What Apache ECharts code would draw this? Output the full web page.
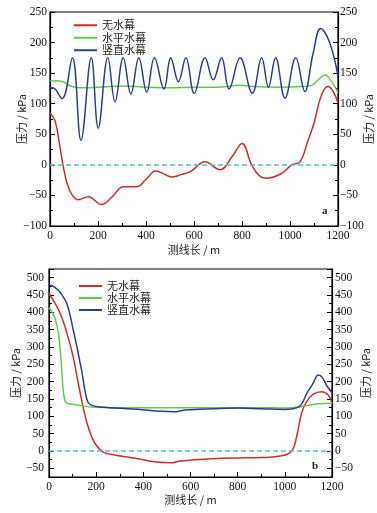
<!DOCTYPE html>
<html><head><meta charset="utf-8">
<script src="https://cdn.jsdelivr.net/npm/echarts@6/dist/echarts.min.js"></script>
<style>html,body{margin:0;padding:0;background:#fff}#c{width:377px;height:513px}</style>
</head><body><div id="c"></div>
<script>
const seriesNames = ['无水幕', '水平水幕', '竖直水幕'];
const xName = '测线长 / m';
const yName = '压力 / kPa';
const panelLabels = ['a', 'b'];

// Panel a: [distance m, pressure kPa]
const aNone = [[0,85],[21,72],[42,28],[54,0],[71,-30],[92,-49],[117,-57],[160,-52],[215,-65],[260,-52],[305,-36],[360,-36],[400,-24],[440,-10],[470,-14],[507,-20],[545,-16],[585,-11],[646,5],[708,-8],[760,14],[800,35],[840,0],[870,-17],[902,-22],[965,-14],[1007,0],[1042,5],[1075,40],[1100,68],[1130,113],[1158,128],[1180,120],[1200,101]];
const aHoriz = [[0,137],[33,137],[60,135],[75,131],[104,127],[150,126],[200,127],[300,129],[400,127],[500,126],[600,127],[700,127],[792,130],[850,128],[950,127],[1050,128],[1090,130],[1120,140],[1146,147],[1172,137],[1200,118]];
const aVert = [[0,126],[12,126],[50,108],[93,175],[129,40],[172,175],[201,60],[241,175],[271,103],[305,175],[337,116],[370,175],[403,119],[435,175],[475,124],[503,175],[535,136],[566,175],[601,117],[646,175],[680,139],[715,175],[746,124],[792,175],[843,117],[882,175],[910,127],[940,175],[979,109],[1024,175],[1062,120],[1095,180],[1128,223],[1165,200],[1200,145]];

// Panel b
const bNone = [[0,455],[17,436],[47,398],[76,340],[103,271],[120,210],[150,110],[170,61],[194,23],[230,-3],[283,-12],[360,-20],[456,-32],[520,-34],[555,-29],[700,-22],[800,-20],[900,-19],[987,-14],[1029,0],[1050,41],[1071,109],[1092,142],[1121,164],[1156,171],[1185,161],[1200,138]];
const bHoriz = [[0,414],[11,402],[25,384],[40,340],[51,262],[60,176],[66,150],[71,141],[80,137],[120,133],[160,128],[200,126],[300,125],[500,125],[700,125],[900,125],[1000,124],[1050,126],[1100,132],[1150,136],[1200,138]];
const bVert = [[0,480],[25,472],[50,455],[75,426],[103,349],[138,234],[152,176],[166,140],[185,131],[216,127],[357,121],[527,113],[580,118],[700,122],[800,124],[900,122],[1000,120],[1060,128],[1094,167],[1120,196],[1142,219],[1160,211],[1180,186],[1200,168]];

const colors = ['#d22a2a', '#62c94a', '#2a3d96'];
const zeroColor = '#55c0d0';
const serif = 'Liberation Serif';
const cjk = 'Noto Sans CJK SC';
const plain = v => String(v).replace('-', '\u2212');

function xAx(gi) {
  return {
    type: 'value', gridIndex: gi, min: 0, max: 1200, interval: 200,
    name: xName, nameLocation: 'middle', nameGap: gi === 0 ? 18 : 17, nameMoveOverlap: false,
    nameTextStyle: {fontFamily: cjk, fontSize: 11, color: '#222'},
    axisLine: {show: true, onZero: false, lineStyle: {color: '#000', width: 1.2}},
    axisTick: {show: true, inside: true, length: 5, lineStyle: {color: '#000'}},
    minorTick: {show: true, splitNumber: 2, length: 3, lineStyle: {color: '#000'}},
    axisLabel: {margin: 4, fontFamily: serif, fontSize: 11.5, color: '#111', formatter: plain},
    splitLine: {show: false}
  };
}
function yAx(gi, pos, extra, gap, margin, hideEnds) {
  return Object.assign({
    type: 'value', gridIndex: gi, position: pos,
    name: yName, nameLocation: 'middle', nameRotate: 90, nameGap: gap, nameMoveOverlap: false,
    nameTextStyle: {fontFamily: cjk, fontSize: 11, color: '#222'},
    axisLine: {show: true, onZero: false, lineStyle: {color: '#000', width: 1.2}},
    axisTick: {show: true, inside: true, length: 5, lineStyle: {color: '#000'}},
    minorTick: {show: true, splitNumber: 2, length: 3, lineStyle: {color: '#000'}},
    axisLabel: {margin: margin, fontFamily: serif, fontSize: 11.5, color: '#111', formatter: plain,
                showMinLabel: !hideEnds, showMaxLabel: !hideEnds},
    splitLine: {show: false}
  }, extra);
}
const topY = {min: -100, max: 250, interval: 50};
const botY = {min: -75, max: 525, splitNumber: 12};

function line(name, data, ci, xi, yi, mark) {
  const s = {
    name: name, type: 'line', data: data, xAxisIndex: xi, yAxisIndex: yi,
    smooth: 0.4, symbol: 'none', showSymbol: false,
    lineStyle: {color: colors[ci], width: 1.5}, itemStyle: {color: colors[ci]},
    z: 3 + ci
  };
  if (mark) {
    s.markLine = {
      silent: true, symbol: ['none', 'none'], label: {show: false},
      lineStyle: {color: zeroColor, type: [5, 3], width: 1.5},
      data: [{yAxis: 0}]
    };
  }
  return s;
}

const chart = echarts.init(document.getElementById('c'), null, {renderer: 'canvas'});
chart.setOption({
  animation: false,
  backgroundColor: '#fff',
  grid: [
    {left: 50, right: 39, top: 12, height: 214, show: true, borderColor: '#000', borderWidth: 1.2,
     containLabel: false, outerBoundsMode: 'none'},
    {left: 49, right: 45, top: 269, height: 208, show: true, borderColor: '#000', borderWidth: 1.2,
     containLabel: false, outerBoundsMode: 'none'}
  ],
  xAxis: [xAx(0), xAx(1)],
  yAxis: [
    yAx(0, 'left', topY, 23, 3, false),
    yAx(0, 'right', topY, 25, 2, false),
    yAx(1, 'left', Object.assign({}, botY), 28, 5, true),
    yAx(1, 'right', Object.assign({}, botY), 28, 3, true)
  ],
  legend: [
    {orient: 'vertical', left: 69, top: 14, itemWidth: 23, itemHeight: 2, icon: 'rect', itemGap: 0,
     textStyle: {fontFamily: cjk, fontSize: 11, lineHeight: 12.5, color: '#222'}, data: seriesNames},
    {orient: 'vertical', left: 74, top: 275, itemWidth: 23, itemHeight: 2, icon: 'rect', itemGap: 0,
     textStyle: {fontFamily: cjk, fontSize: 11, lineHeight: 12, color: '#222'}, data: seriesNames}
  ],
  graphic: [
    {type: 'text', left: 322, top: 206, style: {text: panelLabels[0], font: 'bold 11px "Liberation Serif"', fill: '#222'}},
    {type: 'text', left: 312, top: 461, style: {text: panelLabels[1], font: 'bold 11px "Liberation Serif"', fill: '#222'}}
  ],
  series: [
    line(seriesNames[0], aNone, 0, 0, 0, true),
    line(seriesNames[1], aHoriz, 1, 0, 0),
    line(seriesNames[2], aVert, 2, 0, 0),
    line(seriesNames[0], bNone, 0, 1, 2, true),
    line(seriesNames[1], bHoriz, 1, 1, 2),
    line(seriesNames[2], bVert, 2, 1, 2)
  ]
});
</script>
</body></html>
